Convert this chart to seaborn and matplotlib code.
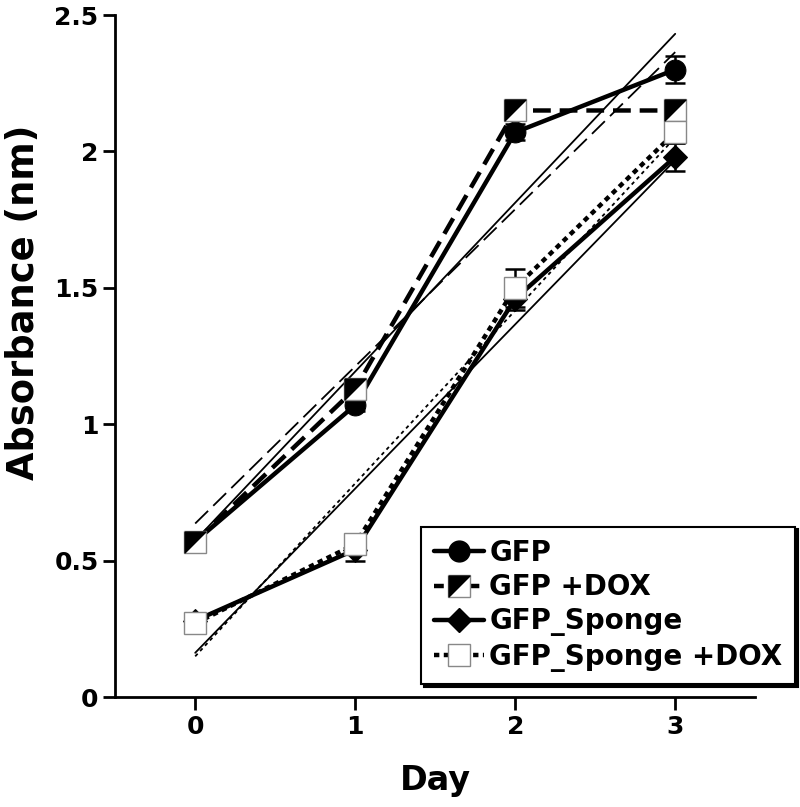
import numpy as np
import pandas as pd
import matplotlib
matplotlib.use("Agg")
import matplotlib.pyplot as plt
import seaborn as sns
from matplotlib.lines import Line2D
from matplotlib.legend_handler import HandlerTuple

days = [0, 1, 2, 3]
series = ["GFP", "GFP +DOX", "GFP_Sponge", "GFP_Sponge +DOX"]
gfp = [0.57, 1.07, 2.07, 2.30]
gfp_dox = [0.57, 1.13, 2.15, 2.15]
sponge = [0.28, 0.54, 1.46, 1.98]
sponge_dox = [0.27, 0.56, 1.50, 2.07]
gfp_err = [0.01, 0.02, 0.03, 0.05]
gfp_dox_err = [0.01, 0.02, 0.02, 0.02]
sponge_err = [0.01, 0.04, 0.04, 0.05]
sponge_dox_err = [0.01, 0.03, 0.07, 0.04]

values = [gfp, gfp_dox, sponge, sponge_dox]
errors = [gfp_err, gfp_dox_err, sponge_err, sponge_dox_err]
df = pd.DataFrame({
    "Day": days * 4,
    "Absorbance": sum(values, []),
    "err": sum(errors, []),
    "group": [s for s in series for _ in days],
})

sns.set_style("white")
plt.rcParams["font.family"] = ["DejaVu Sans"]
plt.rcParams["font.weight"] = "bold"
plt.rcParams["text.color"] = "black"
plt.rcParams["axes.labelcolor"] = "black"
plt.rcParams["xtick.color"] = "black"
plt.rcParams["ytick.color"] = "black"

fig = plt.figure(figsize=(8, 8.07), dpi=100)
ax = fig.add_axes([0.144, 0.1363, 0.80, 0.8451])

dashes = {"GFP": "-", "GFP +DOX": (0, (4, 2)), "GFP_Sponge": "-", "GFP_Sponge +DOX": (0, (1.2, 1.0))}
trend_ls = {"GFP": "-", "GFP +DOX": (0, (10, 4)), "GFP_Sponge": "-", "GFP_Sponge +DOX": (0, (2, 2))}
tri = [(-1, 1), (1, 1), (-1, -1), (-1, 1)]

# linear trend lines
for name in series:
    sub = df[df.group == name]
    sns.regplot(data=sub, x="Day", y="Absorbance", ax=ax, ci=None, scatter=False,
                line_kws=dict(color="black", lw=1.3, ls=trend_ls[name]))

for name in series:
    sub = df[df.group == name]
    ax.errorbar(sub.Day, sub.Absorbance, yerr=sub.err, fmt="none", ecolor="black",
                elinewidth=1.8, capsize=7, capthick=1.8, zorder=3)
    if name == "GFP":
        kw = dict(marker="o", markersize=15, markerfacecolor="black", markeredgecolor="black")
    elif name == "GFP_Sponge":
        kw = dict(marker="D", markersize=12, markerfacecolor="black", markeredgecolor="black")
    else:
        kw = dict(marker="s", markersize=16, markerfacecolor="white", markeredgecolor="#888888",
                  markeredgewidth=1.0)
    sns.lineplot(data=sub, x="Day", y="Absorbance", ax=ax, color="black", lw=3.2,
                 linestyle=dashes[name], zorder=4, **kw)
    if name == "GFP +DOX":
        ax.plot(sub.Day, sub.Absorbance, ls="none", marker=tri, markersize=15,
                color="black", zorder=5)

ax.set_xlim(-0.5, 3.5)
ax.set_ylim(0, 2.5)
ax.set_xticks(days)
ax.set_yticks([0, 0.5, 1, 1.5, 2, 2.5])
ax.set_yticklabels(["0", "0.5", "1", "1.5", "2", "2.5"])
ax.tick_params(axis="both", direction="out", length=9, width=2, labelsize=18,
               left=True, bottom=True)
ax.tick_params(axis="x", pad=4)
ax.tick_params(axis="y", pad=3)
for lab in ax.get_xticklabels() + ax.get_yticklabels():
    lab.set_fontweight("bold")
ax.set_xlabel("Day", fontsize=24, fontweight="bold")
ax.set_ylabel("Absorbance (nm)", fontsize=26.5, fontweight="bold")
ax.xaxis.set_label_coords(0.5, -0.098)
ax.yaxis.set_label_coords(-0.115, 0.579)
sns.despine(ax=ax)
for s in ["left", "bottom"]:
    ax.spines[s].set_linewidth(2)
    ax.spines[s].set_color("black")

h_gfp = Line2D([], [], color="black", lw=3.2, marker="o", markersize=15)
h_dox = (Line2D([], [], color="black", lw=3.2, ls=(0, (2.2, 1.8)), marker="s", markersize=16,
                markerfacecolor="white", markeredgecolor="#888888", markeredgewidth=1.0),
         Line2D([], [], ls="none", marker=tri, markersize=15, color="black"))
h_sp = Line2D([], [], color="black", lw=3.2, marker="D", markersize=12)
h_spd = Line2D([], [], color="black", lw=3.2, ls=(0, (1.2, 1.0)), marker="s", markersize=16,
               markerfacecolor="white", markeredgecolor="#888888", markeredgewidth=1.0)
leg = ax.legend([h_gfp, h_dox, h_sp, h_spd], series, loc="lower right",
                bbox_to_anchor=(795 / 800, 1 - 684 / 807), bbox_transform=fig.transFigure,
                handler_map={tuple: HandlerTuple(ndivide=1, pad=0)},
                prop=dict(size=20, weight="bold"), handlelength=1.8, handletextpad=0.2,
                labelspacing=0.22, borderpad=0.45, borderaxespad=0, fancybox=False,
                shadow={"color": "black", "alpha": 1},
                frameon=True, framealpha=1, edgecolor="black")
leg.get_frame().set_linewidth(1.5)
for t in leg.get_texts():
    t.set_color("black")

fig.savefig("out.png", dpi=100)
